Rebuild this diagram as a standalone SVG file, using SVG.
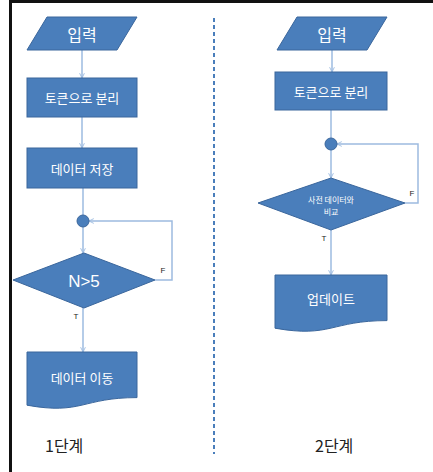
<svg xmlns="http://www.w3.org/2000/svg" width="433" height="472" viewBox="0 0 433 472">
<defs>
<style>
.n{fill:#4a7ebb;stroke:#3a669c;stroke-width:1}
.t{fill:#ffffff;font-family:"Noto Sans CJK KR","Noto Sans",sans-serif;text-anchor:middle;dominant-baseline:central}
.c{fill:none;stroke:#9dbbe0;stroke-width:1.5}
.l{fill:#222;font-family:"Liberation Sans","Noto Sans CJK KR",sans-serif;font-size:8px;text-anchor:middle}
.s{fill:#222;font-family:"Noto Sans CJK KR",sans-serif;font-size:16px}
</style>
<marker id="a" viewBox="0 0 10 10" refX="9" refY="5" markerWidth="6" markerHeight="6" orient="auto-start-reverse" markerUnits="userSpaceOnUse">
<path d="M1,1 L9,5 L1,9" fill="none" stroke="#9dbbe0" stroke-width="1.5"/>
</marker>
</defs>
<rect width="433" height="472" fill="#ffffff"/>
<line x1="9" y1="1.5" x2="433" y2="1.5" stroke="#111" stroke-width="3"/>
<line x1="10.5" y1="0" x2="10.5" y2="472" stroke="#111" stroke-width="3"/>
<line x1="214" y1="18" x2="214" y2="454" stroke="#4a7ebb" stroke-width="2" stroke-dasharray="4,3"/>
<g id="connectors">
<line class="c" x1="82" y1="50" x2="82" y2="78" marker-end="url(#a)"/>
<line class="c" x1="82" y1="117" x2="82" y2="148" marker-end="url(#a)"/>
<line class="c" x1="83" y1="188" x2="83" y2="215"/>
<line class="c" x1="83" y1="227" x2="83" y2="253" marker-end="url(#a)"/>
<polyline class="c" points="155,280 172,280 172,221 89,221" marker-end="url(#a)"/>
<line class="c" x1="83" y1="308" x2="83" y2="352" marker-end="url(#a)"/>
<line class="c" x1="332" y1="50" x2="332" y2="72" marker-end="url(#a)"/>
<line class="c" x1="331" y1="110" x2="331" y2="138"/>
<line class="c" x1="331" y1="150" x2="331" y2="178" marker-end="url(#a)"/>
<polyline class="c" points="405,203 418,203 418,144 337,144" marker-end="url(#a)"/>
<line class="c" x1="331" y1="230" x2="331" y2="275" marker-end="url(#a)"/>
<text class="l" x="163" y="273">F</text>
<text class="l" x="76" y="319">T</text>
<text class="l" x="412" y="196">F</text>
<text class="l" x="324" y="241">T</text>
</g>
<g id="in1"><polygon class="n" points="47,17 137,17 117,50 27,50"/><text class="t" x="82" y="34" font-size="16">입력</text></g>
<g id="tok1"><rect class="n" x="27" y="78" width="110" height="39"/><text class="t" x="82" y="97.5" font-size="13">토큰으로 분리</text></g>
<g id="store1"><rect class="n" x="27" y="148" width="110" height="40"/><text class="t" x="82" y="168" font-size="13">데이터 저장</text></g>
<g id="j1"><circle class="n" cx="83" cy="221" r="6"/></g>
<g id="d1"><polygon class="n" points="84,253 155,280 84,308 13,280"/><text class="t" x="84" y="281" font-size="17" style="font-family:'Liberation Sans','Noto Sans CJK KR',sans-serif">N&gt;5</text></g>
<g id="mv1"><path class="n" d="M27,352 H137 V397.6 C82,397.6 82,415.1 27,405.2 Z"/><text class="t" x="82" y="377" font-size="13">데이터 이동</text></g>
<text class="s" x="45" y="452">1단계</text>
<g id="in2"><polygon class="n" points="297,17 387,17 367,50 277,50"/><text class="t" x="332" y="34" font-size="16">입력</text></g>
<g id="tok2"><rect class="n" x="275" y="72" width="112" height="38"/><text class="t" x="331" y="91" font-size="13">토큰으로 분리</text></g>
<g id="j2"><circle class="n" cx="331" cy="144" r="6"/></g>
<g id="d2"><polygon class="n" points="331,178 405,203 331,230 258,203"/><text class="t" x="331" y="199" font-size="8">사전 데이터와</text><text class="t" x="331" y="211" font-size="8">비교</text></g>
<g id="up2"><path class="n" d="M275,275 H387 V320.6 C331,320.6 331,338.1 275,328.2 Z"/><text class="t" x="331" y="298" font-size="13">업데이트</text></g>
<text class="s" x="315" y="452">2단계</text>
</svg>
